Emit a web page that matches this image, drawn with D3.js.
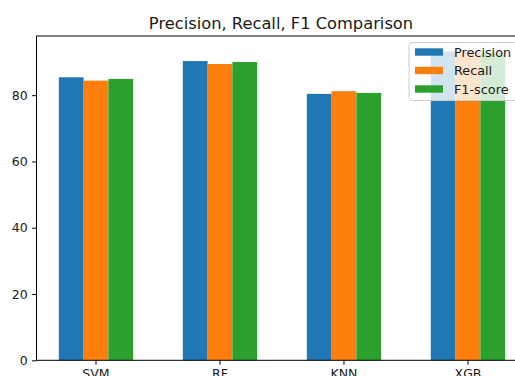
<!DOCTYPE html>
<html>
<head>
<meta charset="utf-8">
<script src="https://cdn.jsdelivr.net/npm/d3@7/dist/d3.min.js"></script>
<style>
  html, body { margin: 0; padding: 0; background: #fff; overflow: hidden; }
  svg { display: block; font-family: "DejaVu Sans", sans-serif; }
</style>
</head>
<body>
<svg id="chart" width="515" height="376"></svg>
<script>
// Model comparison scores (percent)
const models = ["SVM", "RF", "KNN", "XGB"];
const seriesNames = ["Precision", "Recall", "F1-score"];
const precision = [85.4, 90.3, 80.4, 93.2];
const recall = [84.4, 89.4, 81.2, 93.0];
const f1 = [84.9, 90.0, 80.7, 92.7];
const yTicks = [0, 20, 40, 60, 80];
const colors = ["#1f77b4", "#ff7f0e", "#2ca02c"];

const seriesValues = [precision, recall, f1];

const svg = d3.select("#chart");
const margin = { left: 36.5, top: 36, bottom: 360.3, right: 527.5 };

const x = d3.scaleBand()
  .domain(models)
  .range([margin.left, margin.right])
  .paddingInner(0.4)
  .paddingOuter(0.18);

const xSub = d3.scaleBand()
  .domain(seriesNames)
  .range([0, x.bandwidth()]);

const yMax = d3.max(seriesValues.flat()) * 1.05;
const y = d3.scaleLinear()
  .domain([0, yMax])
  .range([margin.bottom, margin.top]);

// Bars
seriesNames.forEach((name, si) => {
  svg.append("g")
    .attr("fill", colors[si])
    .selectAll("rect")
    .data(models.map((m, i) => ({ model: m, value: seriesValues[si][i] })))
    .join("rect")
    .attr("x", d => x(d.model) + xSub(name))
    .attr("y", d => y(d.value))
    .attr("width", xSub.bandwidth())
    .attr("height", d => y(0) - y(d.value));
});

// Axes
const xAxis = d3.axisBottom(x).tickSize(4.4).tickPadding(4.4).tickSizeOuter(0);
const gx = svg.append("g")
  .attr("transform", `translate(0,${margin.bottom})`)
  .call(xAxis);

const yAxis = d3.axisLeft(y).tickValues(yTicks).tickSize(4.4).tickPadding(4.4).tickSizeOuter(0);
const gy = svg.append("g")
  .attr("transform", `translate(${margin.left},0)`)
  .call(yAxis);

[gx, gy].forEach(g => {
  g.select(".domain").remove();
  g.selectAll(".tick line").attr("stroke", "#000").attr("stroke-width", 1);
  g.selectAll(".tick text")
    .attr("fill", "#1a1a1a")
    .style("font-family", "'DejaVu Sans', sans-serif")
    .style("font-size", "12.5px");
});

// Spines
const spines = svg.append("g")
  .attr("fill", "none")
  .attr("stroke", "#000")
  .attr("stroke-width", 1);
spines.append("rect")
  .attr("x", margin.left)
  .attr("y", margin.top)
  .attr("width", margin.right - margin.left)
  .attr("height", margin.bottom - margin.top);

// Title
svg.append("text")
  .attr("x", (margin.left + margin.right) / 2 - 1)
  .attr("y", 29)
  .attr("text-anchor", "middle")
  .attr("fill", "#1a1a1a")
  .style("font-size", "16.3px")
  .text("Precision, Recall, F1 Comparison");

// Legend
const legend = svg.append("g").attr("transform", "translate(409,42.5)");
legend.append("rect")
  .attr("width", 112)
  .attr("height", 58)
  .attr("rx", 3)
  .attr("fill", "#fff")
  .attr("fill-opacity", 0.8)
  .attr("stroke", "#cccccc")
  .attr("stroke-width", 1);

seriesNames.forEach((name, i) => {
  const row = legend.append("g").attr("transform", `translate(6,${9.5 + i * 18.5})`);
  row.append("rect")
    .attr("x", 0)
    .attr("y", -3.7)
    .attr("width", 28)
    .attr("height", 7.4)
    .attr("fill", colors[i]);
  row.append("text")
    .attr("x", 39)
    .attr("y", 0)
    .attr("dy", "0.36em")
    .attr("fill", "#1a1a1a")
    .style("font-size", "12.8px")
    .text(name);
});
</script>
</body>
</html>
